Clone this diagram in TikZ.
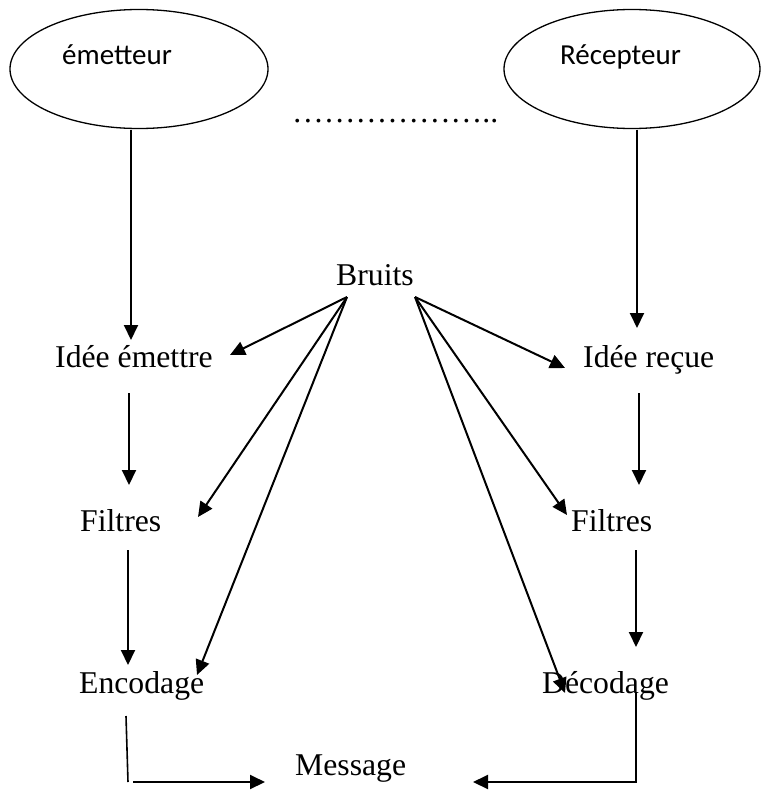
\documentclass[tikz,border=0pt]{standalone}
\usepackage{fontspec}
\setmainfont{Liberation Serif}
\newfontfamily\calib{Carlito}
\usetikzlibrary{arrows.meta,shapes.geometric}
\begin{document}
\begin{tikzpicture}[x=1pt,y=-1pt,
  lbl/.style={inner sep=0pt, anchor=base west, font=\fontsize{31.7}{38}\selectfont},
  elabel/.style={inner sep=0pt, anchor=base west, font=\calib\fontsize{29}{35}\selectfont},
  oval/.style={draw, ellipse, line width=1.3pt, inner sep=0pt},
  arr/.style={line width=2pt, -{Triangle[length=15pt,width=14pt]}},
  plainline/.style={line width=1.6pt}]
\useasboundingbox (0,0) rectangle (762,790);
% ellipses
\node[oval, minimum width=258pt, minimum height=119pt] (em) at (139,69) {};
\node[oval, minimum width=256pt, minimum height=119pt] (re) at (632,69) {};
\node[elabel] (emt) at (62,64) {émetteur};
\node[elabel] (ret) at (560,64) {Récepteur};
\node[lbl] (dots) at (292,122) {………………..};
% labels
\node[lbl] (br) at (336,285) {Bruits};
\node[lbl] (ie) at (55,367) {Idée émettre};
\node[lbl] (ir) at (583,367) {Idée reçue};
\node[lbl] (f1) at (80,531) {Filtres};
\node[lbl] (f2) at (571,531) {Filtres};
\node[lbl] (en) at (79,693) {Encodage};
\node[lbl] (de) at (542,693) {Décodage};
\node[lbl] (me) at (295,775) {Message};
% connector points
\coordinate (a1s) at (131,129.5);
\coordinate (a1e) at (131,340);
\coordinate (a2s) at (637,129.5);
\coordinate (a2e) at (637,328);
\coordinate (a3s) at (129,393);
\coordinate (a3e) at (129,485);
\coordinate (a4s) at (639,393);
\coordinate (a4e) at (639,485);
\coordinate (a5s) at (128,550);
\coordinate (a5e) at (128,665);
\coordinate (a6s) at (636,550);
\coordinate (a6e) at (636,647);
\coordinate (bl) at (347,297);
\coordinate (brr) at (415,297);
\coordinate (bl1) at (230,355);
\coordinate (bl2) at (198,517);
\coordinate (bl3) at (197,675);
\coordinate (br1) at (565,368);
\coordinate (br2) at (567,515);
\coordinate (br3) at (565,693);
\coordinate (e1) at (126,716);
\coordinate (e2) at (128,782);
\coordinate (e3) at (133,782);
\coordinate (m1) at (265,782);
\coordinate (d1) at (636,693);
\coordinate (d2) at (636,782);
\coordinate (m2) at (473,782);
% connectors
\draw[arr] (a1s) -- (a1e);
\draw[arr] (a2s) -- (a2e);
\draw[arr] (a3s) -- (a3e);
\draw[arr] (a4s) -- (a4e);
\draw[arr] (a5s) -- (a5e);
\draw[arr] (a6s) -- (a6e);
\draw[arr] (bl) -- (bl1);
\draw[arr] (bl) -- (bl2);
\draw[arr] (bl) -- (bl3);
\draw[arr] (brr) -- (br1);
\draw[arr] (brr) -- (br2);
\draw[arr] (brr) -- (br3);
\draw[plainline] (e1) -- (e2);
\draw[arr] (e3) -- (m1);
\draw[arr] (d1) -- (d2) -- (m2);
\end{tikzpicture}
\end{document}
